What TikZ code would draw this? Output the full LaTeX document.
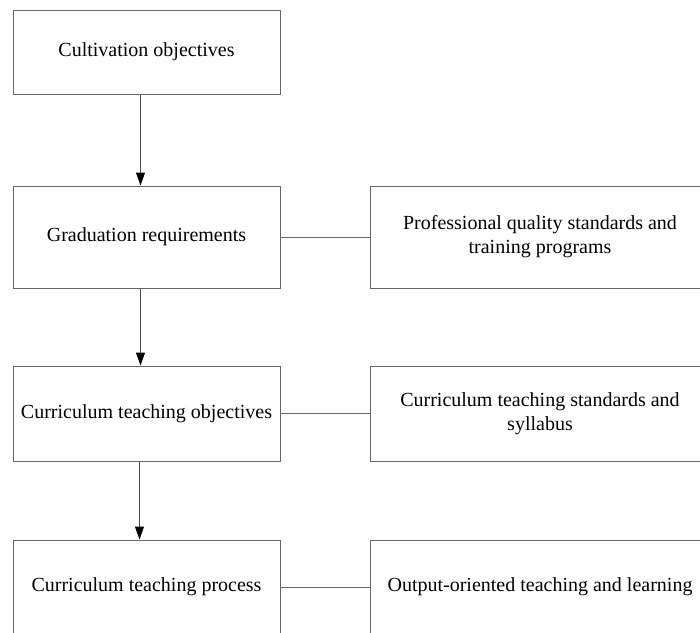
\documentclass[tikz,border=0pt]{standalone}
\usepackage{fontspec}
\setmainfont{Liberation Serif}
\usetikzlibrary{arrows.meta}
\tikzstyle{lbox}=[rectangle,draw=black!60,line width=1pt,inner sep=0pt,
  minimum width=267pt,align=center,font=\fontsize{20}{24}\selectfont]
\tikzstyle{rbox}=[rectangle,draw=black!60,line width=1pt,inner sep=0pt,
  minimum width=340pt,align=center,font=\fontsize{20}{24}\selectfont]
\tikzstyle{arr}=[-{Triangle[length=13pt,width=9pt,color=black]},line width=1pt,draw=black!70]
\tikzstyle{link}=[line width=1pt,draw=black!60]

\begin{document}
\begin{tikzpicture}[x=1pt,y=-1pt]
    \useasboundingbox (0,0) rectangle (700,632);
    \clip (0,0) rectangle (700,632);
    % left column
    \node [style=lbox,minimum height=84pt] (obj) at (146.5, 52) {Cultivation objectives};
    \node [style=lbox,minimum height=102pt] (req) at (146.5, 237) {Graduation requirements};
    \node [style=lbox,minimum height=95pt] (cto) at (146.5, 413.5) {Curriculum teaching objectives};
    \node [style=lbox,minimum height=94pt] (ctp) at (146.5, 587) {Curriculum teaching process};
    % right column
    \node [style=rbox,minimum height=102pt] (pqs) at (540, 237) {Professional quality standards and\\training programs};
    \node [style=rbox,minimum height=95pt] (cts) at (540, 413.5) {Curriculum teaching standards and\\syllabus};
    \node [style=rbox,minimum height=94pt] (otl) at (540, 587) {Output-oriented teaching and learning};
    % arrows
    \draw [style=arr] ([xshift=-6pt]obj.south) to ([xshift=-6pt]req.north);
    \draw [style=arr] ([xshift=-6pt]req.south) to ([xshift=-6pt]cto.north);
    \draw [style=arr] ([xshift=-7pt]cto.south) to ([xshift=-7pt]ctp.north);
    % links
    \draw [style=link] (req) to (pqs);
    \draw [style=link] (cto) to (cts);
    \draw [style=link] (ctp) to (otl);
\end{tikzpicture}
\end{document}
